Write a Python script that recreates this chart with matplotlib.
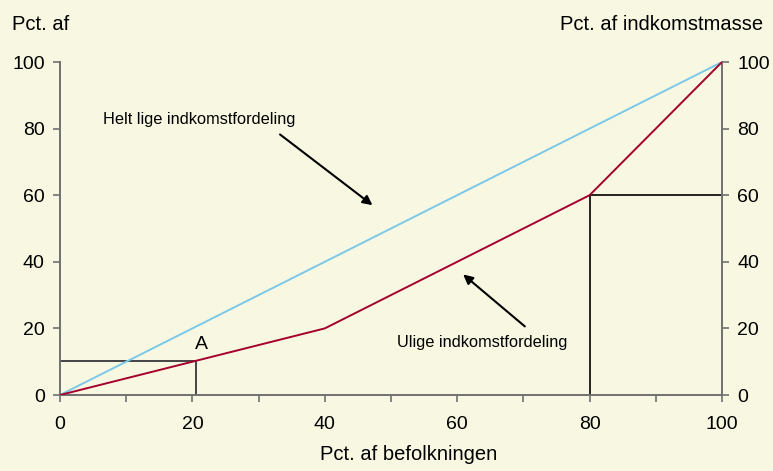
import matplotlib
matplotlib.use("Agg")
import matplotlib.pyplot as plt

plt.rcParams['font.family'] = ['Liberation Sans', 'DejaVu Sans']

# Data
equal_x = [0, 100]
equal_y = [0, 100]
lorenz_x = [0, 40, 80, 100]
lorenz_y = [0, 20, 60, 100]
point_a = (20.5, 10.25)
point_b = (80, 60)
x_ticks = [0, 20, 40, 60, 80, 100]
x_minor = [10, 30, 50, 70, 90]
y_ticks = [0, 20, 40, 60, 80, 100]

bg = '#f8f8e2'
fig = plt.figure(figsize=(7.73, 4.71), dpi=100, facecolor=bg)
ax = fig.add_axes([60/773, 76/471, 662/773, 333/471], facecolor=bg)

ax.plot(equal_x, equal_y, color='#7cc8e8', lw=1.4, zorder=3)
ax.plot(lorenz_x, lorenz_y, color='#a5002d', lw=1.4, zorder=4)

# reference lines
ax.plot([0, point_a[0], point_a[0]], [point_a[1], point_a[1], 0], color='#444444', lw=1.4, zorder=2)
ax.plot([100, point_b[0], point_b[0]], [point_b[1], point_b[1], 0], color='black', lw=1.2, zorder=2)

ax.set_xlim(0, 100)
ax.set_ylim(0, 100)
ax.set_xticks(x_ticks)
ax.set_xticks(x_minor, minor=True)
ax.set_yticks(y_ticks)
for s in ['left', 'right', 'bottom']:
    ax.spines[s].set_color('#707070')
    ax.spines[s].set_linewidth(1.4)
ax.spines['top'].set_visible(False)
ax.tick_params(axis='both', which='both', direction='out', color='#707070', width=1.2,
               labelsize=14, length=5)
ax.tick_params(axis='y', right=True, labelright=True, pad=6)
ax.tick_params(axis='x', which='both', pad=10)

ax.set_xlabel('Pct. af befolkningen', fontsize=14.5, labelpad=9)
ax.xaxis.label.set_x(0.526)

fig.text(12/773, 1 - 24/471, 'Pct. af', fontsize=14.5, ha='left', va='center')
fig.text(763/773, 1 - 24/471, 'Pct. af indkomstmasse', fontsize=14.5, ha='right', va='center')

ax.text(21.3, 15.2, 'A', fontsize=14, ha='center', va='center')

ax.annotate('Helt lige indkomstfordeling', xy=(47.2, 57), xytext=(21.1, 82.6),
            fontsize=11.8, ha='center', va='center',
            arrowprops=dict(arrowstyle='-|>', color='black', lw=1.5, mutation_scale=14,
                            shrinkA=5, shrinkB=0, relpos=(0.87, 0)))
ax.annotate('Ulige indkomstfordeling', xy=(60.9, 36.2), xytext=(63.7, 15.9),
            fontsize=11.8, ha='center', va='center',
            arrowprops=dict(arrowstyle='-|>', color='black', lw=1.5, mutation_scale=14,
                            shrinkA=6, shrinkB=0, relpos=(0.81, 1)))

fig.savefig('out.png', dpi=100, facecolor=bg)
